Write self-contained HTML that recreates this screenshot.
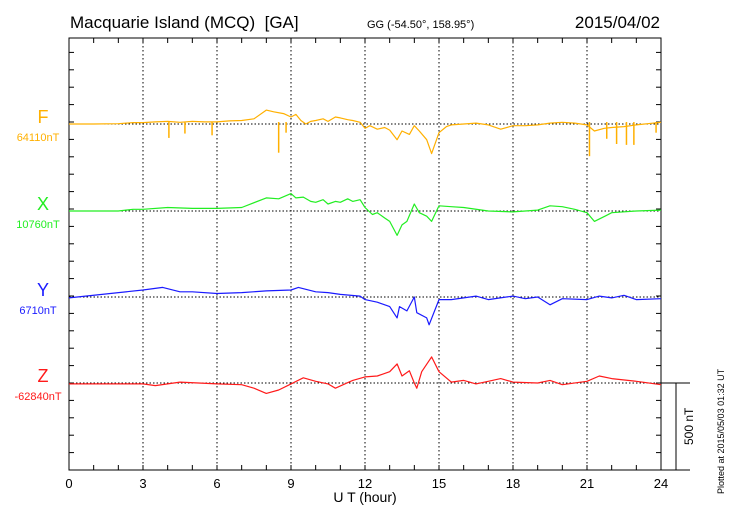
<!DOCTYPE html>
<html><head><meta charset="utf-8"><style>
body{margin:0;background:#fff;font-family:"Liberation Sans",sans-serif}
svg{display:block}
</style></head><body>
<svg id="c" width="730" height="520" xmlns="http://www.w3.org/2000/svg">
<text x="70" y="28" font-size="17" xml:space="preserve">Macquarie Island (MCQ)  [GA]</text>
<text x="367" y="28" font-size="11">GG (-54.50°, 158.95°)</text>
<text x="660" y="28" font-size="17" text-anchor="end">2015/04/02</text>
<text x="365" y="502" font-size="14" text-anchor="middle">U T (hour)</text>
<text transform="translate(724,494) rotate(-90)" font-size="9">Plotted at 2015/05/03 01:32 UT</text>
<text transform="translate(693,445) rotate(-90)" font-size="12">500 nT</text>
</svg>
<script>
const hoursTicks=[0,3,6,9,12,15,18,21,24];
const seriesNames=["F","X","Y","Z"];
const baseLabels=["64110nT","10760nT","6710nT","-62840nT"];
const fHours=[0,1,2,2.6,3,3.5,4,4.5,5,5.5,6,6.5,7,7.5,8,8.3,8.7,9,9.2,9.4,9.6,9.8,10,10.3,10.5,10.8,11,11.3,11.5,11.8,12,12.2,12.5,12.8,13,13.3,13.5,13.8,14,14.2,14.5,14.7,15,15.3,15.5,16,16.5,17,17.5,18,18.5,19,19.5,20,20.5,21,21.3,21.7,22,22.5,23,24];
const fVals=[0,0,2,8,8,12,15,10,15,12,12,18,20,30,80,70,60,40,55,20,0,15,20,30,15,40,35,25,20,10,-25,-10,-30,-20,-35,-90,-40,-60,-10,-40,-90,-170,-50,-15,-5,0,5,-5,-30,-10,-10,-5,5,10,5,-5,-40,-25,-20,-15,-5,10];
const fSpikeHours=[4.05,4.7,5.8,8.5,8.8,21.1,21.8,22.2,22.6,22.9,23.8];
const fSpikeVals=[-80,-55,-65,-165,-50,-185,-85,-115,-120,-120,-50];
const xHours=[0,2,2.6,3,4,5,6,7,8,8.5,9,9.2,9.5,9.8,10,10.3,10.5,10.8,11,11.3,11.5,11.8,12,12.3,12.5,12.8,13,13.3,13.5,13.7,14,14.2,14.5,14.7,15,15.5,16,17,18,19,19.5,20,20.5,21,21.3,21.8,22,23,24];
const xVals=[0,0,10,10,20,15,15,20,75,70,100,75,80,55,50,65,40,55,50,70,55,65,20,-20,-10,-40,-60,-140,-80,-60,40,-10,-30,-60,30,25,20,0,-5,5,30,25,10,-10,-60,-25,-10,0,5];
const yHours=[0,3,3.8,4.5,5,6,7,8,9,9.3,10,10.5,11,11.8,12,12.5,13,13.3,13.4,13.7,14,14.1,14.5,14.6,15,15.5,16,16.5,17,18,18.5,19,19.5,20,21,21.5,22,22.5,23,24];
const yVals=[-5,40,55,30,30,20,25,35,40,55,30,25,15,5,-15,-30,-55,-120,-55,-80,0,-90,-120,-160,-15,-15,-5,5,-15,5,-10,0,-45,-10,-15,5,-5,10,-15,-10];
const zHours=[0,3,3.5,4.5,6,7,7.5,8,8.5,9,9.5,10,10.5,10.8,11.5,12,12.5,13,13.3,13.5,13.8,14,14.1,14.3,14.7,15,15.5,16,16.5,17,17.5,18,19,19.5,20,21,21.5,22,23,24];
const zVals=[-5,-5,-15,5,-5,-10,-30,-60,-40,-5,30,10,-5,-30,15,35,40,65,110,40,70,0,-30,65,150,65,5,15,-5,10,25,5,0,15,-10,10,40,25,10,-10];

const svg=document.getElementById('c');const NS='http://www.w3.org/2000/svg';
const L=69,R=661,T=38,B=470,bases=[124,211,297,383],pxPerNT=87/500;
const colors=["#ffb000","#22ee22","#1a1aff","#ff1a1a"];
const xs=h=>L+(R-L)*h/24, ys=(i,v)=>bases[i]-v*pxPerNT;
function el(t,a){const e=document.createElementNS(NS,t);for(const k in a)e.setAttribute(k,a[k]);svg.appendChild(e);return e;}
let e=el('rect',{x:L,y:T,width:R-L,height:B-T,fill:'none',stroke:'#000','stroke-width':1});


hoursTicks.forEach(h=>{
 if(h>0&&h<24){e=el('line',{x1:xs(h),x2:xs(h),y1:T,y2:B,stroke:'#000','stroke-dasharray':'1.5,2.5','stroke-width':1});
 
 }
 e=el('text',{x:xs(h),y:488,'font-size':13,'text-anchor':'middle'});e.textContent=h;
 
 
});
for(let h=1;h<24;h++){
 el('line',{x1:xs(h),x2:xs(h),y1:T,y2:T+5,stroke:'#000'});
 el('line',{x1:xs(h),x2:xs(h),y1:B,y2:B-5,stroke:'#000'});
}
for(let y=B;y>T;y-=87/5){
 el('line',{x1:L,x2:L+5,y1:y,y2:y,stroke:'#000'});
 el('line',{x1:R,x2:R-5,y1:y,y2:y,stroke:'#000'});
}
bases.forEach((b,i)=>{
 e=el('line',{x1:L,x2:R,y1:b,y2:b,stroke:'#000','stroke-dasharray':'1.5,2','stroke-width':1});
 
 
 e=el('text',{x:43,y:b-1,'font-size':18,fill:colors[i],'text-anchor':'middle'});e.textContent=seriesNames[i];
 
 
 e=el('text',{x:38,y:b+17,'font-size':11,fill:colors[i],'text-anchor':'middle'});e.textContent=baseLabels[i];
 
 
});
const all=[[fHours,fVals],[xHours,xVals],[yHours,yVals],[zHours,zVals]];
all.forEach(([H,V],i)=>{
 const d=H.map((h,k)=>(k?'L':'M')+xs(h).toFixed(1)+','+ys(i,V[k]).toFixed(1)).join('');
 e=el('path',{d,fill:'none',stroke:colors[i],'stroke-width':1.2,'stroke-linejoin':'round'});
 
 
});
fSpikeHours.forEach((h,k)=>{
 e=el('line',{x1:xs(h),x2:xs(h),y1:ys(0,0)-2,y2:ys(0,fSpikeVals[k]),stroke:colors[0],'stroke-width':1.5});
 
 
});
el('line',{x1:R,x2:690,y1:383,y2:383,stroke:'#000'});
el('line',{x1:R,x2:690,y1:B,y2:B,stroke:'#000'});
e=el('line',{x1:676,x2:676,y1:383,y2:B,stroke:'#000'});


</script>
</body></html>
